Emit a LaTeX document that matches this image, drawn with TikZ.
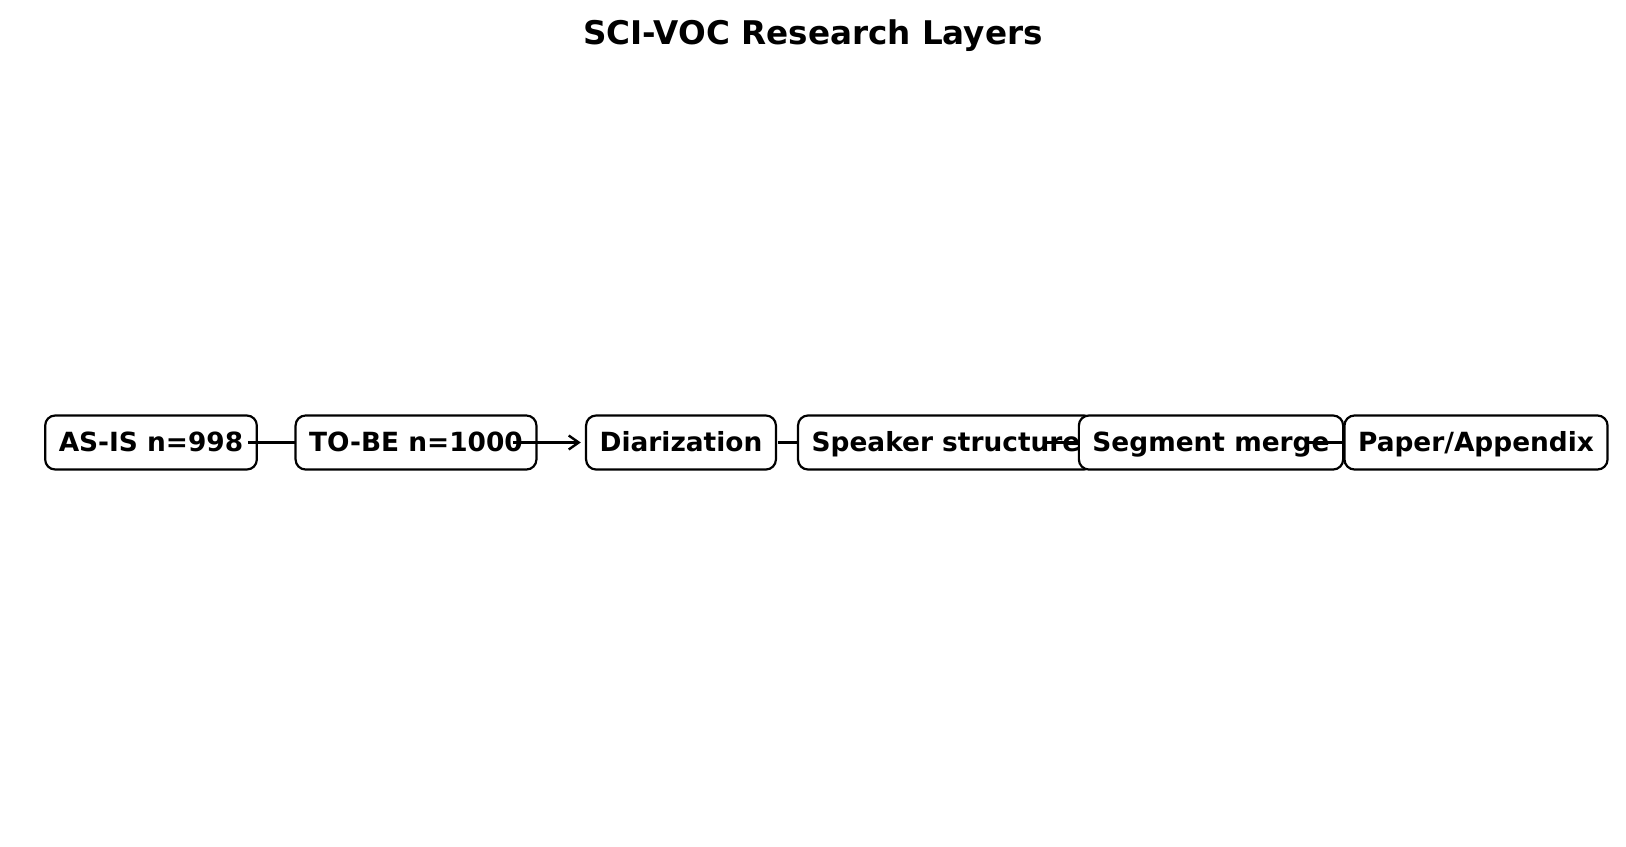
\documentclass[tikz,border=0pt]{standalone}
\usepackage{fontspec}
\setmainfont{DejaVu Sans}
\usetikzlibrary{arrows.meta, positioning}

\tikzset{
  layerbox/.style={draw, fill=white, line width=1.1pt, rounded corners=5pt,
    minimum height=27pt, inner xsep=6.8pt, inner ysep=0pt,
    text height=0.95em, text depth=0.05em,
    font=\fontsize{13.2pt}{16pt}\selectfont\bfseries},
  flow/.style={-{Straight Barb[length=5pt, width=7pt, line width=1.2pt]}, line width=1.3pt}
}

\begin{document}
\begin{tikzpicture}[x=0.5pt, y=-0.5pt]
  \useasboundingbox (0,0) rectangle (1626,846);

  % Title
  \node[anchor=base, font=\fontsize{16.3pt}{19pt}\selectfont\bfseries] (title) at (813,44) {SCI-VOC Research Layers};

  % Draw the layers, each arrow runs under the next box
  \node[layerbox] (asis) at (151,442.5) {AS-IS n=998};
  \draw[flow] ([xshift=48.4pt]asis.center) -- ++(68,0) coordinate (tip1);

  \node[layerbox] (tobe) at (416,442.5) {TO-BE n=1000};
  \draw[flow] ([xshift=48.4pt]tobe.center) -- ++(68,0) coordinate (tip2);

  \node[layerbox] (diar) at (681,442.5) {Diarization};
  \draw[flow] ([xshift=48.4pt]diar.center) -- ++(68,0) coordinate (tip3);

  \node[layerbox] (speaker) at (946,442.5) {Speaker structure};
  \draw[flow] ([xshift=48.4pt]speaker.center) -- ++(68,0) coordinate (tip4);

  \node[layerbox] (merge) at (1211,442.5) {Segment merge};
  \draw[flow] ([xshift=48.4pt]merge.center) -- ++(68,0) coordinate (tip5);

  \node[layerbox] (paper) at (1476,442.5) {Paper/Appendix};
\end{tikzpicture}
\end{document}
